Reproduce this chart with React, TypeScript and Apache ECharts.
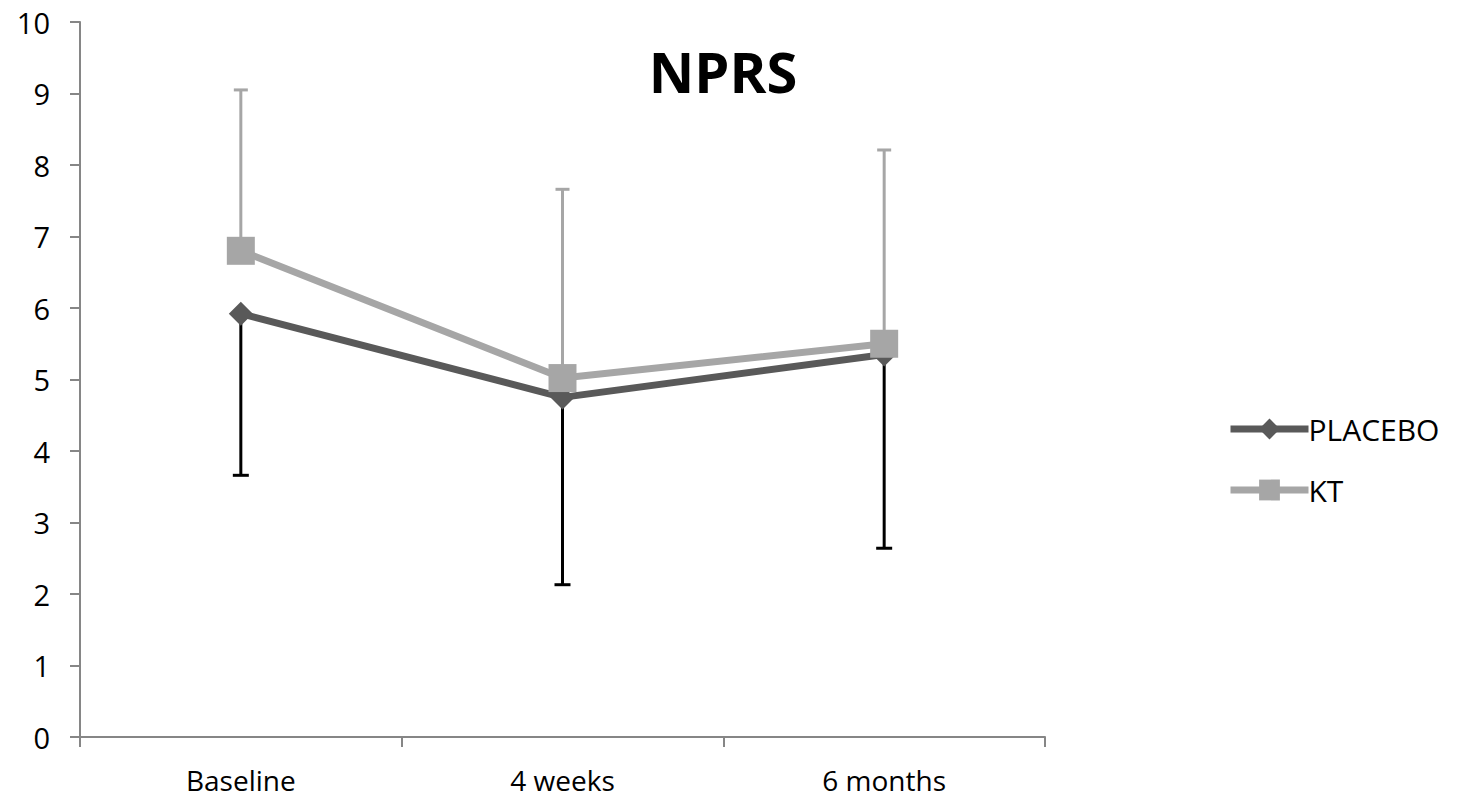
import React, { useEffect, useRef } from "react";
import * as echarts from "echarts";

const categories = ["Baseline", "4 weeks", "6 months"];
const placeboMean = [5.92, 4.75, 5.35];
const placeboLow = [3.66, 2.13, 2.64];
const ktMean = [6.8, 5.02, 5.5];
const ktHigh = [9.05, 7.66, 8.21];
const yTicks = [0, 1, 2, 3, 4, 5, 6, 7, 8, 9, 10];

const FONT = "'Open Sans', 'Liberation Sans', sans-serif";

function errorBar(color: string, cap: number, width: number) {
  return (params: any, api: any) => {
    const x = api.value(0);
    const a = api.coord([x, api.value(1)]);
    const b = api.coord([x, api.value(2)]);
    const style = { stroke: color, lineWidth: width };
    return {
      type: "group",
      children: [
        { type: "line", shape: { x1: a[0], y1: a[1], x2: b[0], y2: b[1] }, style },
        { type: "line", shape: { x1: b[0] - cap / 2, y1: b[1], x2: b[0] + cap / 2, y2: b[1] }, style },
      ],
    };
  };
}

export default function App() {
  const ref = useRef<HTMLDivElement>(null);
  useEffect(() => {
    if (!ref.current) return;
    const chart = echarts.init(ref.current, null, { renderer: "svg" });
    chart.setOption({
      animation: false,
      backgroundColor: "#ffffff",
      title: {
        text: "NPRS",
        left: 718,
        top: 38,
        textAlign: "center",
        textStyle: { fontFamily: FONT, fontSize: 56, fontWeight: "bold", color: "#000" },
      },
      legend: {
        orient: "vertical",
        left: 1222,
        top: 409,
        itemWidth: 78,
        itemHeight: 26,
        itemGap: 31,
        data: [
          { name: "PLACEBO", lineStyle: { width: 7 } },
          { name: "KT", lineStyle: { width: 7 } },
        ],
        textStyle: { fontFamily: FONT, fontSize: 30, color: "#000", padding: [0, 0, 0, -5] },
      },
      grid: { left: 80, right: 418, top: 22, bottom: 62, containLabel: false },
      xAxis: {
        type: "category",
        data: categories,
        boundaryGap: true,
        axisLine: { lineStyle: { color: "#868686", width: 2 } },
        axisTick: { show: true, length: 10, lineStyle: { color: "#868686", width: 2 } },
        axisLabel: { fontFamily: FONT, fontSize: 28, lineHeight: 30, color: "#000", margin: 28 },
      },
      yAxis: {
        type: "value",
        min: yTicks[0],
        max: yTicks[yTicks.length - 1],
        interval: 1,
        splitLine: { show: false },
        axisLine: { show: true, lineStyle: { color: "#868686", width: 2 } },
        axisTick: { show: true, length: 10, lineStyle: { color: "#868686", width: 2 } },
        axisLabel: { fontFamily: FONT, fontSize: 29, color: "#000", margin: 30 },
      },
      series: [
        {
          name: "PlaceboErr",
          type: "custom",
          renderItem: errorBar("#000000", 16, 3),
          data: placeboMean.map((m, i) => [i, m, placeboLow[i]]),
          encode: { x: 0, y: [1, 2] },
          z: 1,
          silent: true,
        },
        {
          name: "KTErr",
          type: "custom",
          renderItem: errorBar("#a6a6a6", 14, 3),
          data: ktMean.map((m, i) => [i, m, ktHigh[i]]),
          encode: { x: 0, y: [1, 2] },
          z: 1,
          silent: true,
        },
        {
          name: "PLACEBO",
          type: "line",
          data: placeboMean,
          symbol: "diamond",
          symbolSize: 24,
          itemStyle: { color: "#595959" },
          lineStyle: { color: "#595959", width: 7 },
          z: 3,
        },
        {
          name: "KT",
          type: "line",
          data: ktMean,
          symbol: "rect",
          symbolSize: 28,
          itemStyle: { color: "#a6a6a6" },
          lineStyle: { color: "#a6a6a6", width: 7 },
          z: 4,
        },
      ],
    });
    return () => chart.dispose();
  }, []);
  return (
    <div
      ref={ref}
      style={{ position: "fixed", left: 0, top: 0, width: 1463, height: 799, background: "#fff" }}
    />
  );
}
